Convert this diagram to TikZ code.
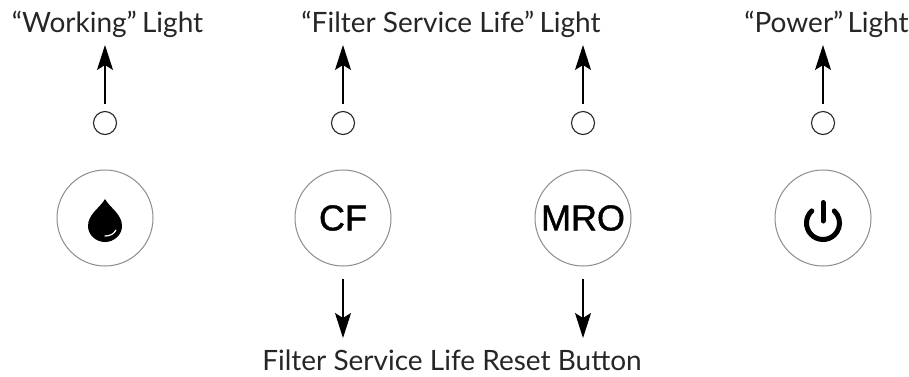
\documentclass[tikz,border=0pt]{standalone}
\usepackage{fontspec}
\setmainfont{Lato}
\newfontfamily\btnfont[FakeBold=1.2]{Liberation Sans}
\usetikzlibrary{arrows.meta}
\begin{document}
\begin{tikzpicture}[x=1pt,y=-1pt,
    button/.style ={circle, draw=black!45, line width=1pt, inner sep = 0pt, minimum size=96pt, font=\btnfont\fontsize{36}{36}\selectfont},
    led/.style ={circle, draw=black!85, line width=1.1pt, inner sep = 0pt, minimum size=23pt},
    caption/.style ={inner sep = 0pt, anchor=base, font=\fontsize{28}{30}\selectfont, text=black!85},
    pointer/.style ={line width=1.2pt, -{Stealth[length=25pt,width=16pt,inset=5pt]}}]
   \useasboundingbox (0,0) rectangle (909,376);
   \node[button] (bw) at (105,218)  {};
   \node[button] (bf) at (343,218)  {CF};
   \node[button] (bm) at (583,218)  {MRO};
   \node[button] (bp) at (823,218)  {};
   \node[led] (lw) at (105,123)  {};
   \node[led] (lf) at (343,123)  {};
   \node[led] (lm) at (583,123)  {};
   \node[led] (lp) at (823,123)  {};
   \node[caption] (cw) at (107.5,32)  {“Working”\kern-2pt\ Light};
   \node[caption] (cf) at (451,32)  {“Filter Service Life”\kern-2pt\ Light};
   \node[caption] (cp) at (826.5,32)  {“Power”\kern-3pt\ Light};
   \node[caption] (cr) at (452,370)  {Filter Service Life Reset Button};
   \coordinate (tw) at (105,45);
   \coordinate (tf) at (343,45);
   \coordinate (tm) at (583,45);
   \coordinate (tp) at (823,45);
   \coordinate (df) at (343,338);
   \coordinate (dm) at (583,338);
   \draw[pointer,shorten <=7pt] (lw) -- (tw);
   \draw[pointer,shorten <=7pt] (lf) -- (tf);
   \draw[pointer,shorten <=7pt] (lm) -- (tm);
   \draw[pointer,shorten <=7pt] (lp) -- (tp);
   \draw[pointer,shorten <=12pt] (bf) -- (df);
   \draw[pointer,shorten <=12pt] (bm) -- (dm);
   \fill[black] (105,199) .. controls (100,208) and (88,214) .. (88,226)
      .. controls (88,235) and (96,242) .. (105,242)
      .. controls (114,242) and (122,235) .. (122,226)
      .. controls (122,214) and (110,208) .. (105,199) -- cycle;
   \draw[white,line width=1.2pt,line cap=round] (105,236) .. controls (110,236) and (114,234) .. (116,230);
   \draw[black,line width=5pt,line cap=round] (811.75,210.93) arc (227:-47:16.5);
   \draw[black,line width=5pt,line cap=round] (823,202.5) -- (823,221);
 \end{tikzpicture}
\end{document}
